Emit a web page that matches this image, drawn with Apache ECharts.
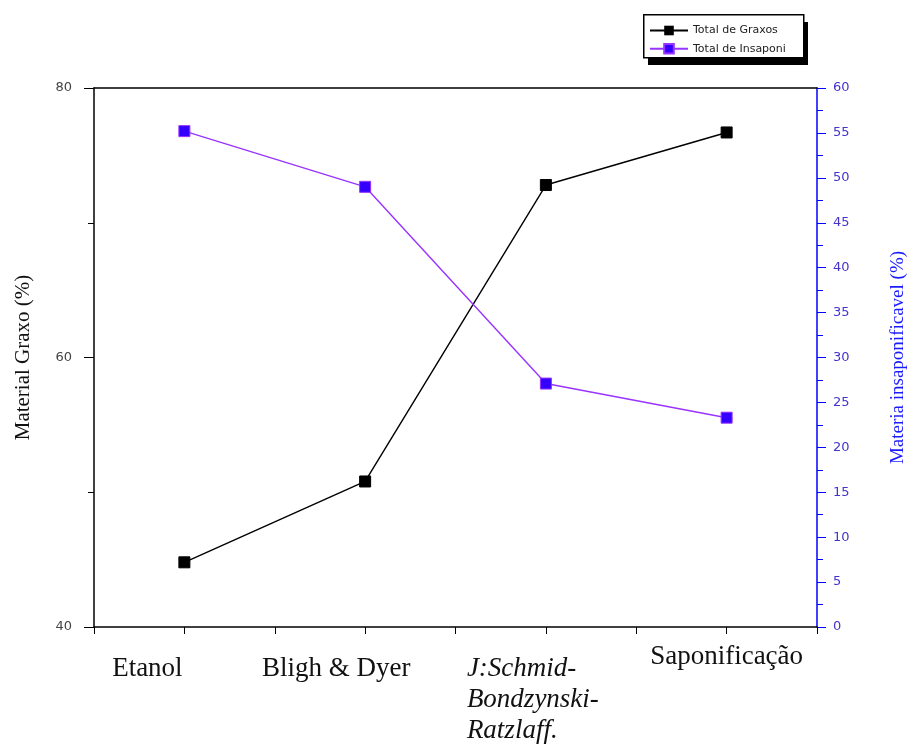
<!DOCTYPE html>
<html><head><meta charset="utf-8">
<script src="https://cdn.jsdelivr.net/npm/echarts@6/dist/echarts.min.js"></script>
<style>html,body{margin:0;padding:0;background:#fff}#c{width:908px;height:744px}</style>
</head><body><div id="c"></div>
<script>
const categories = ['Etanol', 'Bligh & Dyer', 'J:Schmid-\nBondzynski-\nRatzlaff.', 'Saponificação'];
const graxos = [44.8, 50.8, 72.8, 76.7];
const insaponi = [55.2, 49.0, 27.1, 23.3];
const seriesNames = ['Total de Graxos', 'Total de Insaponi'];
const leftTitle = 'Material Graxo (%)';
const rightTitle = 'Materia insaponificavel (%)';

const chart = echarts.init(document.getElementById('c'), null, {renderer: 'canvas'});
const serif = 'Liberation Serif';
const lab = {fontFamily: serif, fontSize: 27, color: '#111', lineHeight: 31};
chart.setOption({
  animation: false,
  backgroundColor: '#fff',
  grid: {left: 94, right: 91, top: 88, bottom: 117, containLabel: false, outerBoundsMode: 'none'},
  legend: {
    left: 644, top: 20, orient: 'vertical', itemGap: 7, itemWidth: 38, itemHeight: 12,
    textStyle: {fontSize: 11, fontFamily: 'DejaVu Sans', color: '#222'},
    data: seriesNames
  },
  graphic: [
    {type: 'rect', left: 648, top: 22, shape: {width: 160, height: 43}, style: {fill: '#000'}, z: -1},
    {type: 'rect', left: 643, top: 14, shape: {width: 160, height: 43}, style: {fill: '#fff', stroke: '#000', lineWidth: 1.5}, z: 0}
  ],
  xAxis: [
    {
      type: 'category', data: categories, position: 'bottom', boundaryGap: true,
      axisLine: {lineStyle: {color: '#000', width: 1.5}},
      axisTick: {show: true, length: 7, lineStyle: {color: '#000'}},
      axisLabel: {
        margin: 26, interval: 0,
        formatter: function (v, i) {
          if (i === 0) return '{e|' + v + '}';
          if (i === 1) return '{b|' + v + '}';
          if (i === 2) return v.split('\n').map(s => '{it|' + s + '}').join('\n');
          return '{up|' + v + '}';
        },
        rich: {
          e: Object.assign({}, lab, {padding: [0, 74, 0, 0]}),
          b: Object.assign({}, lab, {padding: [0, 58, 0, 0]}),
          it: Object.assign({}, lab, {fontStyle: 'italic', width: 158, align: 'left'}),
          up: Object.assign({}, lab, {padding: [0, 0, 24, 0]})
        },
        verticalAlign: 'top'
      },
      splitLine: {show: false}
    },
    {
      type: 'category', data: categories, position: 'bottom', boundaryGap: true,
      axisLine: {show: false},
      axisTick: {show: true, alignWithLabel: true, length: 7, lineStyle: {color: '#000'}},
      axisLabel: {show: false}, splitLine: {show: false}
    },
    {
      type: 'category', data: categories, position: 'top', boundaryGap: true,
      axisLine: {lineStyle: {color: '#000', width: 1.5}},
      axisTick: {show: false}, axisLabel: {show: false}, splitLine: {show: false}
    }
  ],
  yAxis: [
    {
      type: 'value', min: 40, max: 80, interval: 20, position: 'left',
      name: leftTitle, nameLocation: 'middle', nameGap: 60, nameRotate: 90,
      nameTextStyle: {fontFamily: serif, fontSize: 21, color: '#111'},
      axisLine: {show: true, lineStyle: {color: '#000', width: 1.5}},
      axisTick: {show: true, inside: false, length: 10, lineStyle: {color: '#000'}},
      minorTick: {show: true, splitNumber: 2, length: 6, lineStyle: {color: '#000'}},
      axisLabel: {fontSize: 13, color: '#444', fontFamily: 'DejaVu Sans', margin: 22},
      splitLine: {show: false}
    },
    {
      type: 'value', min: 0, max: 60, interval: 5, position: 'right',
      name: rightTitle, nameLocation: 'middle', nameGap: 72, nameRotate: 90,
      nameTextStyle: {fontFamily: serif, fontSize: 19, color: '#1a1aff'},
      axisLine: {show: true, lineStyle: {color: '#0000ff', width: 1.5}},
      axisTick: {show: true, inside: false, length: 9, lineStyle: {color: '#0000ff'}},
      minorTick: {show: true, splitNumber: 2, length: 6, lineStyle: {color: '#0000ff'}},
      axisLabel: {fontSize: 13, color: '#4433cc', fontFamily: 'DejaVu Sans', margin: 16},
      splitLine: {show: false}
    }
  ],
  series: [
    {
      name: seriesNames[0], type: 'line', xAxisIndex: 0, yAxisIndex: 0, data: graxos,
      symbol: 'rect', symbolSize: 11,
      lineStyle: {color: '#000', width: 1.4},
      itemStyle: {color: '#000', borderColor: '#000'}
    },
    {
      name: seriesNames[1], type: 'line', xAxisIndex: 0, yAxisIndex: 1, data: insaponi,
      symbol: 'rect', symbolSize: 11,
      lineStyle: {color: '#9933ff', width: 1.4},
      itemStyle: {color: '#3300ff', borderColor: '#9933ff', borderWidth: 1}
    }
  ]
});
</script></body></html>
